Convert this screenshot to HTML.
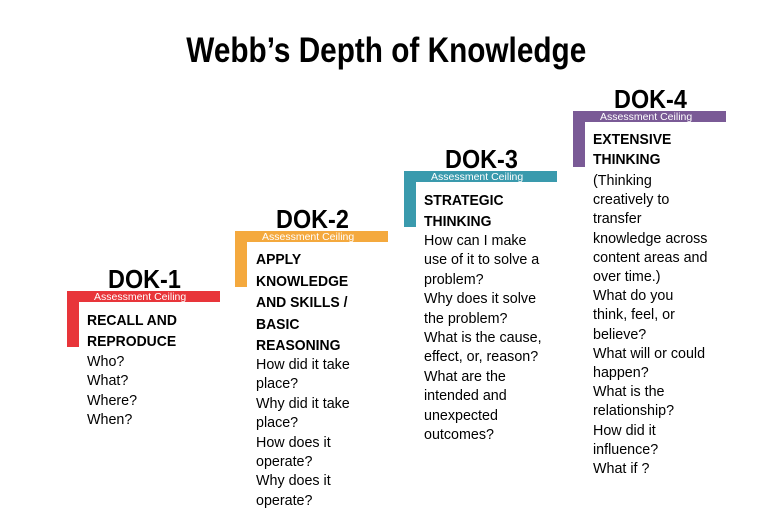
<!DOCTYPE html>
<html><head><meta charset="utf-8"><style>
body{margin:0;width:773px;height:521px;background:#fff;position:relative;overflow:hidden;font-family:"Liberation Sans",sans-serif;color:#000}
.t{position:absolute;left:0;width:773px;top:31px;text-align:center;font-weight:bold;font-size:35px;line-height:40px}
.t span{display:inline-block;transform:scaleX(0.85)}
.dok{position:absolute;width:154px;text-align:center;font-weight:bold;font-size:26px;line-height:28px}
.dok span{display:inline-block;transform:scaleX(0.9)}
.bar{position:absolute;height:11px;width:153px}
.v{position:absolute;width:12px;height:56px}
.ac{position:absolute;font-size:10.5px;line-height:11px;color:#fff;white-space:nowrap}
.h{position:absolute;font-weight:bold;font-size:15px;line-height:21px;white-space:nowrap}
.h span{display:inline-block;transform:scaleX(0.93);transform-origin:left}
.b{position:absolute;font-size:14.3px;line-height:19.4px;white-space:nowrap}
</style></head><body>
<div class="t"><span>Webb’s Depth of Knowledge</span></div>

<div class="dok" style="left:67px;top:265px"><span>DOK-1</span></div>
<div class="bar" style="left:67px;top:291px;background:#e8353a"></div>
<div class="v" style="left:67px;top:291px;background:#e8353a"></div>
<div class="ac" style="left:94px;top:292px">Assessment Ceiling</div>
<div class="h" style="left:87px;top:310px"><span>RECALL AND<br>REPRODUCE</span></div>
<div class="b" style="left:87px;top:353px">Who?<br>What?<br>Where?<br>When?</div>

<div class="dok" style="left:235px;top:205px"><span>DOK-2</span></div>
<div class="bar" style="left:235px;top:231px;background:#f4a93e"></div>
<div class="v" style="left:235px;top:231px;background:#f4a93e"></div>
<div class="ac" style="left:262px;top:232px">Assessment Ceiling</div>
<div class="h" style="left:256px;top:249px;line-height:21.5px"><span>APPLY<br>KNOWLEDGE<br>AND SKILLS /<br>BASIC<br>REASONING</span></div>
<div class="b" style="left:256px;top:356px">How did it take<br>place?<br>Why did it take<br>place?<br>How does it<br>operate?<br>Why does it<br>operate?</div>

<div class="dok" style="left:404px;top:145px"><span>DOK-3</span></div>
<div class="bar" style="left:404px;top:171px;background:#3a9aad"></div>
<div class="v" style="left:404px;top:171px;background:#3a9aad"></div>
<div class="ac" style="left:431px;top:172px">Assessment Ceiling</div>
<div class="h" style="left:424px;top:190px"><span>STRATEGIC<br>THINKING</span></div>
<div class="b" style="left:424px;top:232px">How can I make<br>use of it to solve a<br>problem?<br>Why does it solve<br>the problem?<br>What is the cause,<br>effect, or, reason?<br>What are the<br>intended and<br>unexpected<br>outcomes?</div>

<div class="dok" style="left:573px;top:85px"><span>DOK-4</span></div>
<div class="bar" style="left:573px;top:111px;background:#7a5a96"></div>
<div class="v" style="left:573px;top:111px;background:#7a5a96"></div>
<div class="ac" style="left:600px;top:112px">Assessment Ceiling</div>
<div class="h" style="left:593px;top:130px;line-height:20px"><span>EXTENSIVE<br>THINKING</span></div>
<div class="b" style="left:593px;top:172px;line-height:19.2px">(Thinking<br>creatively to<br>transfer<br>knowledge across<br>content areas and<br>over time.)<br>What do you<br>think, feel, or<br>believe?<br>What will or could<br>happen?<br>What is the<br>relationship?<br>How did it<br>influence?<br>What if ?</div>
</body></html>
